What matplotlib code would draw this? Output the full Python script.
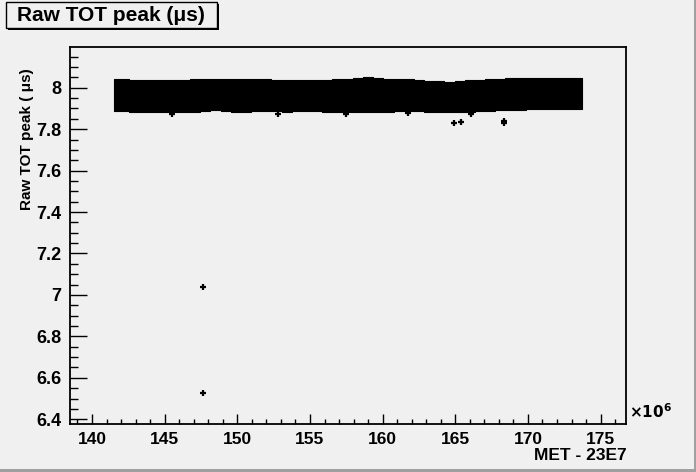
import matplotlib
matplotlib.use('Agg')
import matplotlib.pyplot as plt
from matplotlib.patches import Rectangle
from matplotlib.ticker import MultipleLocator

plt.rcParams['font.family'] = ['Liberation Sans', 'DejaVu Sans']
plt.rcParams['font.weight'] = 'bold'

# band of the dense peak values: time (x 1e6), upper and lower edge
bandTime = [141.5, 142.2, 142.9, 143.6, 144.3, 145.0, 145.7, 146.4, 147.1, 147.8,
            148.5, 149.2, 149.9, 150.6, 151.3, 152.0, 152.7, 153.4, 154.1, 154.8,
            155.5, 156.2, 156.9, 157.6, 158.3, 159.0, 159.7, 160.4, 161.1, 161.8,
            162.5, 163.2, 163.9, 164.6, 165.3, 166.0, 166.7, 167.4, 168.1, 168.8,
            169.5, 170.2, 170.9, 171.6, 172.3, 173.0, 173.7]
bandUpper = [8.042, 8.040, 8.037, 8.038, 8.036, 8.035, 8.037, 8.038, 8.040, 8.041,
             8.043, 8.042, 8.044, 8.043, 8.041, 8.040, 8.038, 8.037, 8.038, 8.037,
             8.038, 8.037, 8.040, 8.044, 8.048, 8.050, 8.047, 8.044, 8.041, 8.040,
             8.036, 8.034, 8.031, 8.030, 8.032, 8.035, 8.038, 8.042, 8.044, 8.045,
             8.045, 8.046, 8.047, 8.047, 8.048, 8.046, 8.045]
bandLower = [7.888, 7.887, 7.885, 7.884, 7.883, 7.882, 7.881, 7.882, 7.883, 7.889,
             7.891, 7.886, 7.885, 7.885, 7.886, 7.888, 7.886, 7.885, 7.886, 7.888,
             7.886, 7.885, 7.884, 7.883, 7.882, 7.881, 7.882, 7.883, 7.887, 7.890,
             7.886, 7.885, 7.883, 7.883, 7.884, 7.885, 7.887, 7.890, 7.892, 7.893,
             7.894, 7.895, 7.896, 7.897, 7.895, 7.896, 7.898]

# isolated points outside the band
outTime = [145.48, 152.81, 157.47, 161.75, 164.92, 165.36, 166.11, 168.36, 168.36, 147.66, 147.66]
outPeak = [7.874, 7.874, 7.871, 7.880, 7.831, 7.834, 7.874, 7.838, 7.832, 7.039, 6.527]

bgColor = '#f0f0f0'

fig = plt.figure(figsize=(6.96, 4.72), dpi=100, facecolor=bgColor)
ax = fig.add_axes([69.5 / 696, 1 - 424 / 472, (626 - 69.5) / 696, (424 - 46.7) / 472])
ax.set_facecolor(bgColor)

ax.fill_between(bandTime, bandLower, bandUpper, step='mid', color='black', lw=0.8, edgecolor='black')
ax.plot(outTime, outPeak, linestyle='none', marker='+', color='black', ms=5, mew=1.6)

ax.set_xlim(138.45, 176.75)
ax.set_ylim(6.377, 8.198)

ax.xaxis.set_major_locator(MultipleLocator(5))
ax.xaxis.set_minor_locator(MultipleLocator(1))
ax.yaxis.set_major_locator(MultipleLocator(0.2))
ax.yaxis.set_minor_locator(MultipleLocator(0.05))
ax.yaxis.set_major_formatter(plt.FuncFormatter(lambda v, p: ('%.1f' % v).rstrip('0').rstrip('.')))

ax.tick_params(axis='both', which='both', direction='in', top=False, right=False,
               width=1, color='black')
ax.tick_params(axis='y', which='major', length=12, pad=6, labelsize=13)
ax.tick_params(axis='y', which='minor', length=6)
ax.tick_params(axis='x', which='major', length=7.5, pad=6, labelsize=12.5)
ax.tick_params(axis='x', which='minor', length=3.5)
for lbl in ax.get_xticklabels() + ax.get_yticklabels():
    lbl.set_fontweight('bold')
for sp in ax.spines.values():
    sp.set_linewidth(1.3)

# axis titles
fig.text(27 / 696, 1 - 68 / 472, 'Raw TOT peak ( \u03bcs)', rotation=90, ha='center', va='top',
         fontsize=11, fontweight='bold')
fig.text(627 / 696, 1 - 456 / 472, 'MET - 23E7', ha='right', va='center',
         fontsize=12.5, fontweight='bold')
fig.text(629 / 696, 1 - 412 / 472, r'$\times\mathbf{10^{6}}$', ha='left', va='center', fontsize=11)

# title box with shadow
fig.patches.append(Rectangle((8 / 696, 1 - 30 / 472), 211 / 696, 26 / 472, transform=fig.transFigure,
                             facecolor='black', edgecolor='none'))
fig.patches.append(Rectangle((6 / 696, 1 - 28 / 472), 211 / 696, 26 / 472, transform=fig.transFigure,
                             facecolor=bgColor, edgecolor='black', lw=1))
fig.text(111 / 696, 1 - 15.5 / 472, 'Raw TOT peak (\u03bcs)', ha='center', va='center',
         fontsize=15, fontweight='bold')

# canvas bevel on right and bottom
fig.patches.append(Rectangle((0, 0), 1, 3 / 472, transform=fig.transFigure, facecolor='#a0a0a0', edgecolor='none'))
fig.patches.append(Rectangle((1 - 2 / 696, 0), 2 / 696, 1, transform=fig.transFigure, facecolor='#a0a0a0', edgecolor='none'))

fig.savefig('out.png', dpi=100, facecolor=bgColor)
